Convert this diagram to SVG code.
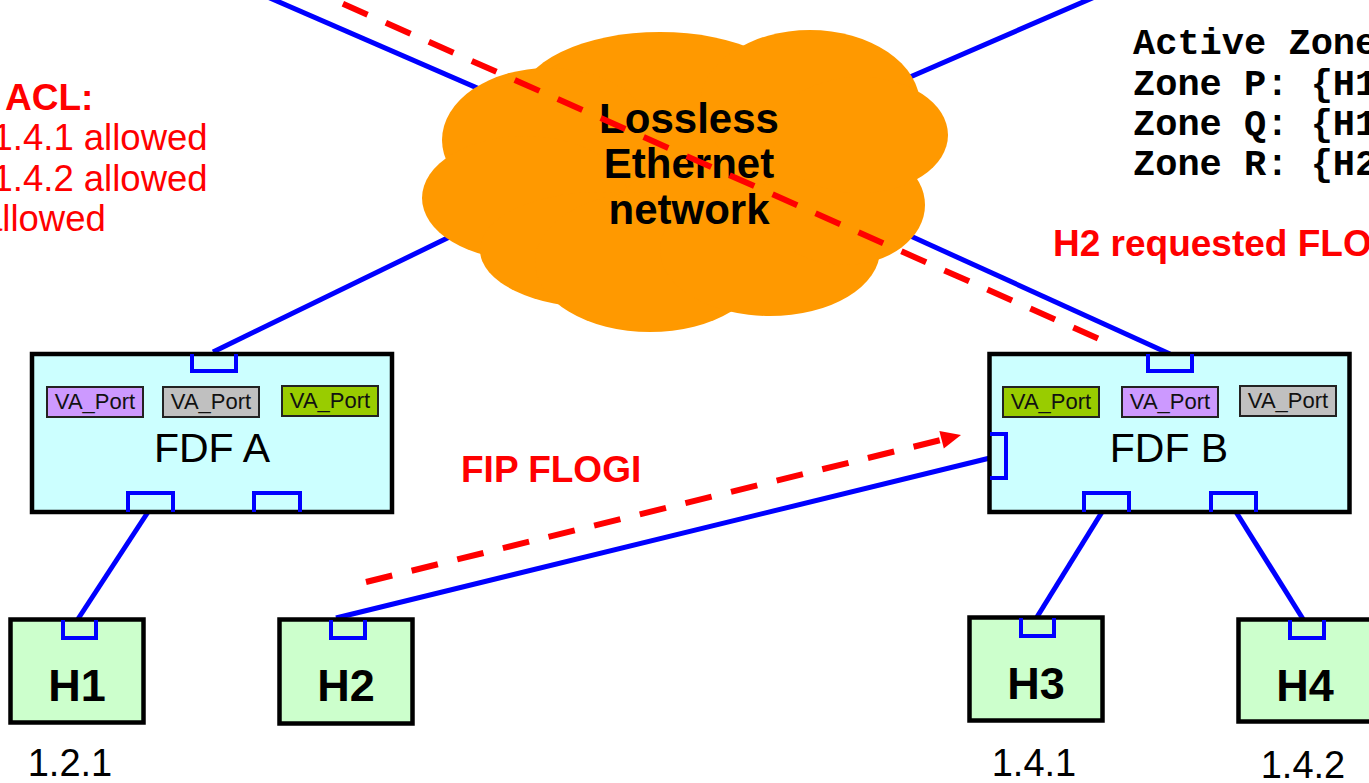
<svg xmlns="http://www.w3.org/2000/svg" width="1369" height="783" viewBox="0 0 1369 783">
  <style>
    .link { stroke: #0000FF; stroke-width: 5; fill: none; }
    .port { stroke: #0000FF; stroke-width: 4; fill: none; }
    .flow { stroke: #FF0000; stroke-width: 6; fill: none; stroke-dasharray: 27 20; }
    .fdf { fill: #CCFFFF; stroke: #000; stroke-width: 4.5; }
    .host { fill: #CCFFCC; stroke: #000; stroke-width: 4.5; }
    .va { stroke: #222; stroke-width: 2; }
    .va-t { font-family: "Liberation Sans", Arial, sans-serif; font-size: 22px; fill: #111; text-anchor: middle; }
    .fdf-t { font-family: "Liberation Sans", Arial, sans-serif; font-size: 41px; fill: #000; text-anchor: middle; }
    .host-t { font-family: "Liberation Sans", Arial, sans-serif; font-size: 45px; font-weight: bold; fill: #000; text-anchor: middle; }
    .addr { font-family: "Liberation Sans", Arial, sans-serif; font-size: 38px; fill: #000; text-anchor: middle; }
    .red-b { font-family: "Liberation Sans", Arial, sans-serif; font-size: 37px; font-weight: bold; fill: #FF0000; }
    .red { font-family: "Liberation Sans", Arial, sans-serif; font-size: 36.5px; fill: #FF0000; }
    .zone { font-family: "Liberation Mono", "Courier New", monospace; font-size: 37px; font-weight: bold; fill: #000; white-space: pre; }
    .cloud-t { font-family: "Liberation Sans", Arial, sans-serif; font-size: 42px; font-weight: bold; fill: #000; text-anchor: middle; }
    .purple { fill: #CC99FF; }
    .gray { fill: #C0C0C0; }
    .green { fill: #99CC00; }
  </style>

  <rect width="1369" height="783" fill="#FFFFFF"/>

  <!-- physical links (drawn beneath the cloud and the boxes) -->
  <g id="connectors">
    <line class="link" x1="240" y1="-15" x2="560" y2="124"/>
    <line class="link" x1="1120" y1="-14" x2="850" y2="103"/>
    <line class="link" x1="213" y1="352" x2="470" y2="227"/>
    <line class="link" x1="860" y1="213" x2="1170" y2="354"/>
    <line class="link" x1="148" y1="512" x2="78" y2="619"/>
    <line class="link" x1="1102" y1="512" x2="1037" y2="617"/>
    <line class="link" x1="1236" y1="512" x2="1303" y2="619"/>
    <line class="link" x1="336" y1="618" x2="990" y2="458"/>
  </g>

  <!-- Ethernet cloud -->
  <g id="cloud" fill="#FF9900">
    <ellipse cx="680" cy="190" rx="210" ry="105"/>
    <ellipse cx="660" cy="100" rx="140" ry="68"/>
    <ellipse cx="810" cy="105" rx="110" ry="75"/>
    <ellipse cx="548" cy="140" rx="106" ry="72"/>
    <ellipse cx="525" cy="198" rx="103" ry="62"/>
    <ellipse cx="600" cy="250" rx="120" ry="58"/>
    <ellipse cx="650" cy="262" rx="115" ry="70"/>
    <ellipse cx="770" cy="250" rx="110" ry="66"/>
    <ellipse cx="845" cy="205" rx="80" ry="60"/>
    <ellipse cx="860" cy="135" rx="88" ry="58"/>
    <text class="cloud-t" x="689" y="133">Lossless</text>
    <text class="cloud-t" x="689" y="178">Ethernet</text>
    <text class="cloud-t" x="689" y="224">network</text>
  </g>

  <!-- FDF A -->
  <g id="fdf-a">
    <rect class="fdf" x="32" y="354" width="360" height="158"/>
    <path class="port" d="M192,354 V371 H236 V354"/>
    <path class="port" d="M128,512 V493 H173 V512"/>
    <path class="port" d="M254,512 V493 H300 V512"/>
    <rect class="va purple" x="47" y="387" width="96" height="30"/>
    <text class="va-t" x="95" y="409">VA_Port</text>
    <rect class="va gray" x="163" y="387" width="96" height="30"/>
    <text class="va-t" x="211" y="409">VA_Port</text>
    <rect class="va green" x="282" y="386" width="96" height="30"/>
    <text class="va-t" x="330" y="408">VA_Port</text>
    <text class="fdf-t" x="212" y="462">FDF A</text>
  </g>

  <!-- FDF B -->
  <g id="fdf-b">
    <rect class="fdf" x="989.5" y="354" width="360" height="158"/>
    <path class="port" d="M1148,354 V371 H1192 V354"/>
    <path class="port" d="M990,434 H1006 V478 H990"/>
    <path class="port" d="M1084,512 V493 H1129 V512"/>
    <path class="port" d="M1211,512 V493 H1256 V512"/>
    <rect class="va green" x="1003" y="387" width="96" height="30"/>
    <text class="va-t" x="1051" y="409">VA_Port</text>
    <rect class="va purple" x="1122" y="387" width="96" height="30"/>
    <text class="va-t" x="1170" y="409">VA_Port</text>
    <rect class="va gray" x="1240" y="386" width="96" height="30"/>
    <text class="va-t" x="1288" y="408">VA_Port</text>
    <text class="fdf-t" x="1169" y="462">FDF B</text>
  </g>

  <!-- hosts -->
  <g id="h1">
    <rect class="host" x="10.5" y="619.5" width="133" height="103"/>
    <path class="port" d="M63,620 V638 H96 V620"/>
    <text class="host-t" x="77" y="701">H1</text>
    <text class="addr" x="70" y="776">1.2.1</text>
  </g>
  <g id="h2">
    <rect class="host" x="279.5" y="619.5" width="133" height="104"/>
    <path class="port" d="M331,620 V638 H365 V620"/>
    <text class="host-t" x="346" y="701">H2</text>
  </g>
  <g id="h3">
    <rect class="host" x="969.5" y="617.5" width="133" height="103"/>
    <path class="port" d="M1021,618 V636 H1054 V618"/>
    <text class="host-t" x="1036" y="699">H3</text>
    <text class="addr" x="1034" y="776">1.4.1</text>
  </g>
  <g id="h4">
    <rect class="host" x="1238.5" y="619.5" width="133" height="102"/>
    <path class="port" d="M1290,620 V638 H1324 V620"/>
    <text class="host-t" x="1305" y="701">H4</text>
    <text class="addr" x="1303" y="778">1.4.2</text>
  </g>

  <!-- login flows -->
  <g id="flows">
    <path class="flow" d="M1098,338.5 L260,-33"/>
    <path class="flow" d="M366,582 L941.6,439.8"/>
    <polygon fill="#FF0000" points="961,435 939.4,431.1 943.8,448.5"/>
    <text class="red-b" x="461" y="482">FIP FLOGI</text>
    <text class="red-b" x="1053" y="256">H2 requested FLO</text>
  </g>

  <!-- ACL listing -->
  <g id="acl">
    <text class="red-b" x="5" y="110" font-size="36">ACL:</text>
    <text class="red" x="-7.5" y="150">1.4.1 allowed</text>
    <text class="red" x="-7.5" y="191">1.4.2 allowed</text>
    <text class="red" x="-18" y="231">allowed</text>
  </g>

  <!-- zoning table -->
  <g id="zones">
    <text class="zone" x="1133" y="54">Active Zone</text>
    <text class="zone" x="1133" y="95">Zone P: {H1</text>
    <text class="zone" x="1133" y="135">Zone Q: {H1</text>
    <text class="zone" x="1133" y="175">Zone R: {H2</text>
  </g>
</svg>
